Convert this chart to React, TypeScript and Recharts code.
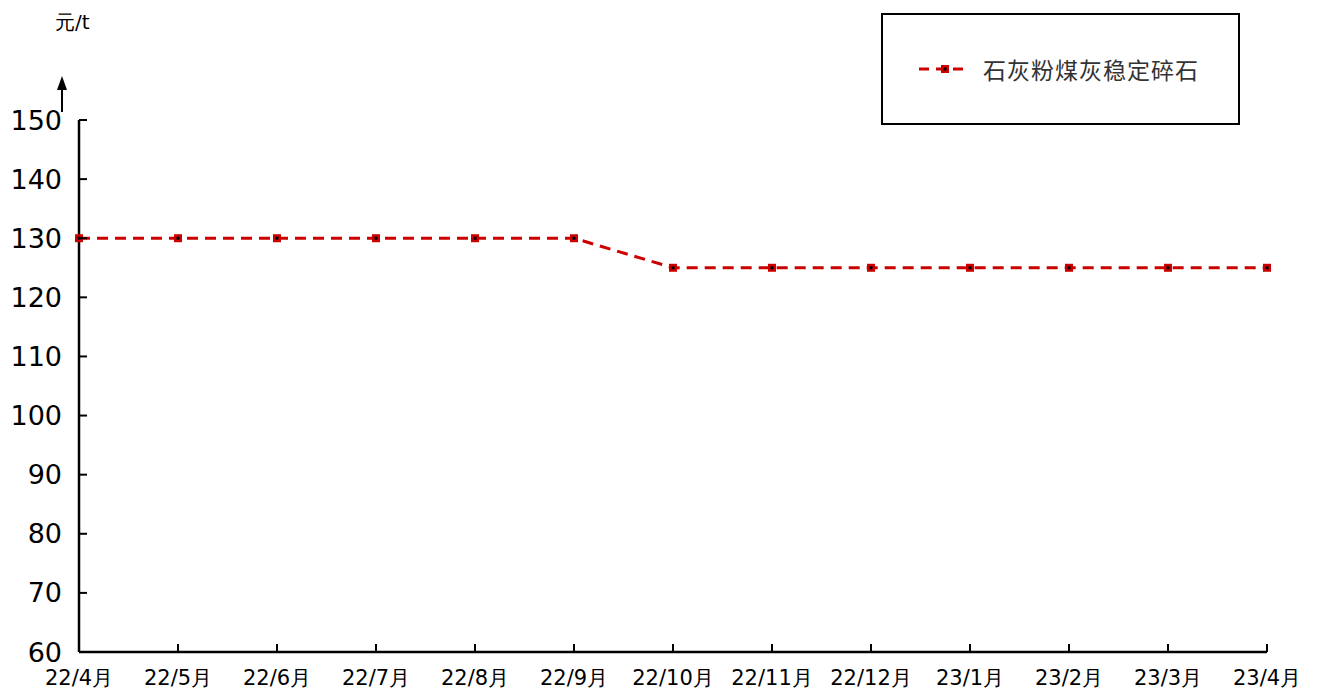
import { LineChart, Line, XAxis, YAxis } from "recharts";

const months = [
  "22/4月", "22/5月", "22/6月", "22/7月", "22/8月", "22/9月", "22/10月",
  "22/11月", "22/12月", "23/1月", "23/2月", "23/3月", "23/4月",
];
const prices = [130, 130, 130, 130, 130, 130, 125, 125, 125, 125, 125, 125, 125];
const yTicks = [60, 70, 80, 90, 100, 110, 120, 130, 140, 150];
const seriesName = "石灰粉煤灰稳定碎石";
const unitLabel = "元/t";

const RED = "#cc0000";
const FONT = "'DejaVu Sans', sans-serif";

const data = months.map((m, i) => ({ month: m, price: prices[i] }));

// ticks point inward, labels sit outside the axis
const YTick = (props: any) => {
  const { x, y, payload } = props;
  return (
    <g>
      <line x1={x} y1={y} x2={x + 8} y2={y} stroke="#000" strokeWidth={2} />
      <text x={x - 17} y={y} textAnchor="end" dominantBaseline="central" fontSize={27} fontFamily={FONT} fill="#000">
        {payload.value}
      </text>
    </g>
  );
};

const XTick = (props: any) => {
  const { x, y, payload } = props;
  return (
    <g>
      <line x1={x} y1={y} x2={x} y2={y - 8} stroke="#000" strokeWidth={2} />
      <text x={x} y={y + 26} textAnchor="middle" dominantBaseline="central" fontSize={21} fontFamily={FONT} fill="#000">
        {payload.value}
      </text>
    </g>
  );
};

const SquareDot = (props: any) => {
  const { cx, cy } = props;
  if (cx == null || cy == null) return null;
  return (
    <g>
      <rect x={cx - 4} y={cy - 4} width={8} height={8} fill={RED} />
      <rect x={cx - 1.5} y={cy - 1.5} width={3} height={3} fill="#000" />
    </g>
  );
};

const LegendBox = () => (
  <div
    style={{
      position: "absolute",
      left: 881,
      top: 13,
      width: 359,
      height: 112,
      border: "2px solid #000",
      boxSizing: "border-box",
      display: "flex",
      alignItems: "center",
      background: "#fff",
    }}
  >
    <svg width={50} height={30} style={{ marginLeft: 35 }}>
      <line x1={1} y1={15} x2={49} y2={15} stroke={RED} strokeWidth={3} strokeDasharray="10 7" />
      <SquareDot cx={27} cy={15} />
    </svg>
    <span
      style={{
        marginLeft: 15,
        fontSize: 23,
        letterSpacing: 1,
        color: "#333",
        fontFamily: "'Noto Sans CJK SC', sans-serif",
      }}
    >
      {seriesName}
    </span>
  </div>
);

export default function App() {
  return (
    <div style={{ position: "relative", width: 1317, height: 693, background: "#fff" }}>
      <style>{`body{margin:0}`}</style>
      <LineChart
        width={1317}
        height={693}
        data={data}
        margin={{ top: 120, right: 50, left: 0, bottom: 0 }}
      >
        <XAxis
          dataKey="month"
          height={41}
          tickSize={0}
          tickMargin={0}
          tickLine={false}
          interval={0}
          axisLine={{ stroke: "#000", strokeWidth: 2.5 }}
          tick={<XTick />}
        />
        <YAxis
          width={79}
          domain={[60, 150]}
          ticks={yTicks}
          interval={0}
          tickSize={0}
          tickMargin={0}
          tickLine={false}
          axisLine={{ stroke: "#000", strokeWidth: 2.5 }}
          tick={<YTick />}
        />
        <Line
          type="linear"
          dataKey="price"
          name={seriesName}
          stroke={RED}
          strokeWidth={3}
          strokeDasharray="11 7"
          dot={<SquareDot />}
          activeDot={false}
          isAnimationActive={false}
        />
      </LineChart>
      <div
        style={{
          position: "absolute",
          left: 55,
          top: 9,
          fontSize: 20,
          fontFamily: FONT,
          color: "#000",
        }}
      >
        {unitLabel}
      </div>
      <svg width={20} height={50} style={{ position: "absolute", left: 52, top: 72 }}>
        <line x1={10} y1={40} x2={10} y2={14} stroke="#000" strokeWidth={2} />
        <polygon points="10,4 5,18 15,18" fill="#000" />
      </svg>
      <LegendBox />
    </div>
  );
}
